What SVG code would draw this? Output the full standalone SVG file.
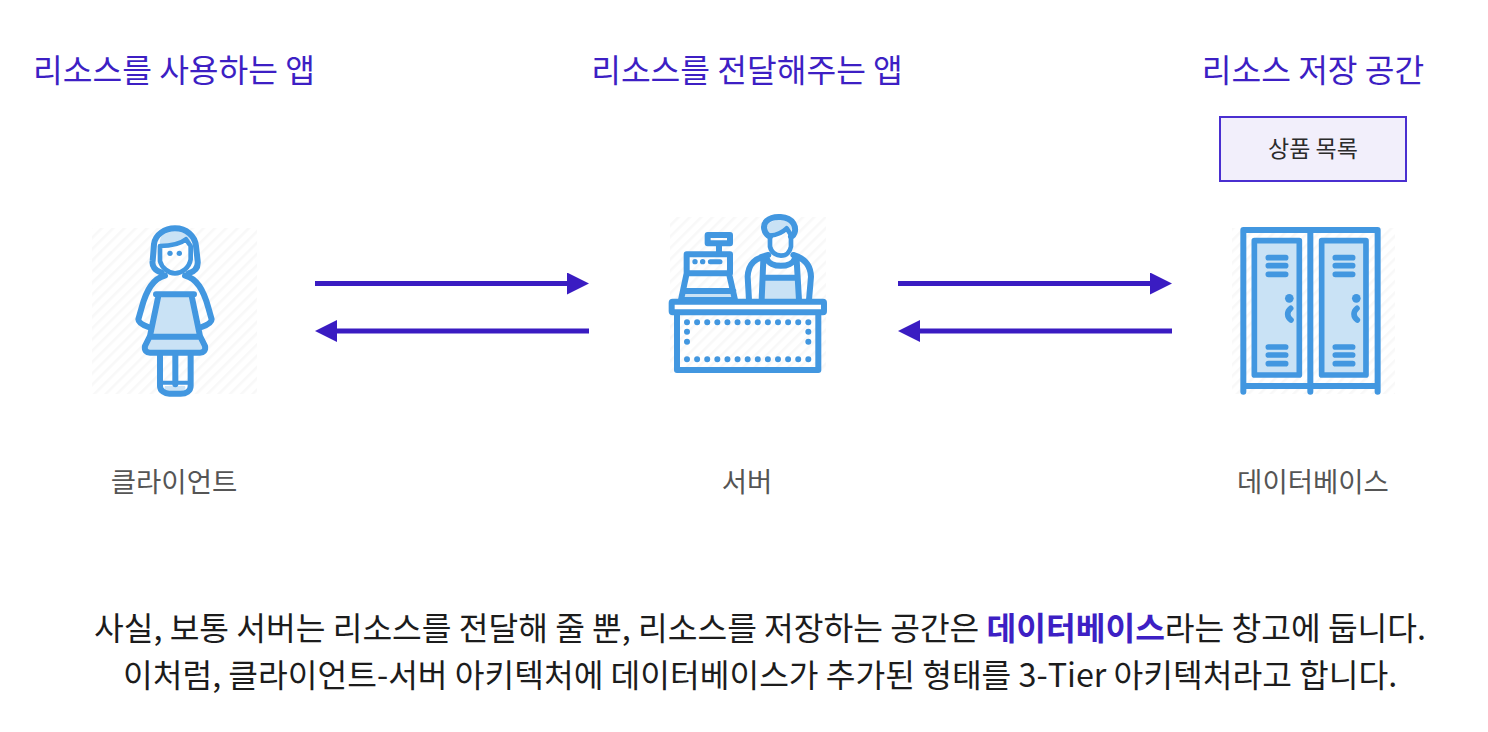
<svg xmlns="http://www.w3.org/2000/svg" width="1488" height="732" viewBox="0 0 1488 732">
<style>
text{font-family:"Noto Sans CJK KR","Noto Sans",sans-serif}
.h{font-size:32.3px;fill:#3d1fc4;text-anchor:middle}
.l{font-size:27.5px;fill:#555;text-anchor:middle}
.b{font-size:32.3px;fill:#1c1c1c}
.i{fill:none;stroke:#4297e0;stroke-width:18;stroke-linecap:round;stroke-linejoin:round}
.f{fill:#c9e2f5;stroke:none}
.d{fill:#4297e0;stroke:none}
.a{stroke:#3a1cc2;stroke-width:5;fill:none}
</style>
<defs>
<pattern id="hatch" width="8" height="8" patternUnits="userSpaceOnUse" patternTransform="rotate(45)"><rect width="8" height="8" fill="#fff"/><rect width="2.5" height="8" fill="#f8f8f8"/></pattern>
<marker id="ah" markerUnits="userSpaceOnUse" markerWidth="23" markerHeight="23" refX="4" refY="11" orient="auto-start-reverse"><path d="M0,0L22,11L0,22Z" fill="#3a1cc2"/></marker>
</defs>
<rect width="1488" height="732" fill="#fff"/>
<text class="h" x="174" y="82">리소스를 사용하는 앱</text>
<text class="h" x="747" y="82">리소스를 전달해주는 앱</text>
<text class="h" x="1313" y="82">리소스 저장 공간</text>
<g id="list"><rect x="1220" y="117" width="186" height="64" fill="#f2effb" stroke="#4a2fd0" stroke-width="2"/><text x="1313" y="157" font-size="23" fill="#2b2b2b" text-anchor="middle">상품 목록</text></g>
<g id="client">
<rect x="92" y="228" width="165" height="166" fill="url(#hatch)"/>
<g transform="translate(80,211) scale(.3333)">
<path class="f" d="M240,105C270,105 300,100 318,85L332,105C335,70 310,58 285,58C255,58 235,75 240,105Z"/>
<path class="f" d="M235,258H335L362,375L378,410L370,420H200L192,410L210,375Z"/>
<path class="f" d="M255,525H315C320,535 310,543 300,543H270C258,543 250,535 255,525Z"/>
<path class="i" d="M245,185C225,180 215,165 218,150L222,100C225,70 255,52 285,52C320,52 345,75 348,105L353,150C355,170 345,182 325,187"/>
<path class="i" style="stroke-width:14" d="M240,105C270,105 300,100 318,85L332,105V145C328,170 305,187 285,187C265,187 245,170 240,150Z"/>
<path class="i" d="M255,194C220,202 200,235 185,290L175,325C175,335 188,342 205,348M315,194C350,202 370,235 385,290L395,325C395,335 382,342 365,348"/>
<path class="i" d="M228,250H342M235,255L210,375L195,405C192,418 200,425 210,425H360C370,425 378,418 375,405L360,375L335,255M210,377H360"/>
<path class="i" d="M240,430V525C240,540 255,548 268,548H302C318,548 332,540 332,525V430M286,430V520"/>
<path class="i" style="stroke-width:12" d="M246,515H326"/>
<circle class="d" cx="270" cy="127" r="8"/><circle class="d" cx="298" cy="127" r="8"/>
</g></g>
<g id="server">
<rect x="670" y="217" width="156" height="156" fill="url(#hatch)"/>
<g transform="translate(655,205) scale(.3333)">
<path class="f" d="M345,92C365,90 385,80 395,70L408,90L412,60C395,40 360,40 342,55C330,65 335,85 345,92Z"/>
<path class="f" d="M327,225H425L430,285H322Z"/>
<path class="f" d="M85,265H235L240,285H80Z"/>
<path class="i" d="M345,95C325,85 322,60 335,48C355,30 400,32 415,55C425,72 420,90 408,95"/>
<path class="i" style="stroke-width:14" d="M345,92C365,90 385,80 395,70L408,90V125C405,140 395,152 378,152C365,152 350,145 345,125Z"/>
<path class="i" d="M340,150C300,160 280,175 278,215L282,285M415,150C450,160 467,180 468,215L462,285M325,165L320,285M425,165L432,285M335,160C345,190 410,190 420,160M325,218H425"/>
<path class="i" d="M158,90H225V115H158ZM192,118V148M95,148H225V205H95ZM95,205L78,285H240L222,205M85,258H235"/>
<path class="i" style="stroke-width:15" d="M166,170H195"/>
<circle class="d" cx="120" cy="170" r="8"/><circle class="d" cx="143" cy="170" r="8"/>
<rect x="50" y="290" width="457" height="32" rx="3" fill="#fff" stroke="#4297e0" stroke-width="18" stroke-linejoin="round"/>
<path class="i" d="M66,325V495H490V325"/>
<path d="M96,352H460M96,463H460M96,380V436M460,380V436" fill="none" stroke="#4297e0" stroke-width="18" stroke-linecap="round" stroke-dasharray="0 30.33"/>
</g></g>
<g id="database">
<rect x="1232" y="228" width="163" height="166" fill="url(#hatch)"/>
<g transform="translate(1210,105) scale(.3333)">
<rect x="133" y="407" width="135" height="403" fill="#c9e2f5" stroke="#4297e0" stroke-width="17" stroke-linejoin="round"/>
<rect x="335" y="407" width="133" height="403" fill="#c9e2f5" stroke="#4297e0" stroke-width="17" stroke-linejoin="round"/>
<path class="i" d="M100,860V375H503V860M301,375V860M100,843H503"/>
<path class="i" style="stroke-width:17" d="M175,458H227M175,482H227M175,508H227M175,726H227M175,750H227M175,776H227M376,458H428M376,482H428M376,508H428M376,726H428M376,750H428M376,776H428M242,610C230,620 230,635 243,645M441,610C429,620 429,635 442,645"/>
<circle class="d" cx="238" cy="580" r="13"/><circle class="d" cx="439" cy="580" r="13"/>
</g></g>
<g id="connectors">
<path class="a" d="M315,283.5H571" marker-end="url(#ah)"/>
<path class="a" d="M589,331H333" marker-end="url(#ah)"/>
<path class="a" d="M898,283.5H1154" marker-end="url(#ah)"/>
<path class="a" d="M1172,331H916" marker-end="url(#ah)"/>
</g>
<text class="l" x="174" y="492">클라이언트</text>
<text class="l" x="747" y="492">서버</text>
<text class="l" x="1313" y="492">데이터베이스</text>
<text class="b" x="94" y="640">사실, 보통 서버는 리소스를 전달해 줄 뿐, 리소스를 저장하는 공간은 <tspan font-weight="700" fill="#3d1fc4">데이터베이스</tspan>라는 창고에 둡니다.</text>
<text class="b" x="123" y="687">이처럼, 클라이언트-서버 아키텍처에 데이터베이스가 추가된 형태를 3-Tier 아키텍처라고 합니다.</text>
</svg>
